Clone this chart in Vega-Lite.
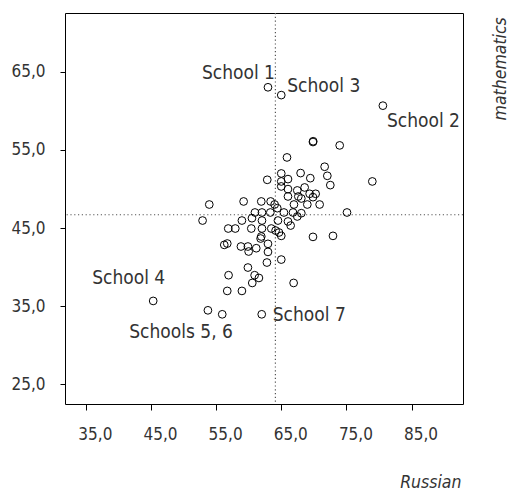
{
  "$schema": "https://vega.github.io/schema/vega-lite/v6.json",
  "width": 398,
  "height": 391,
  "autosize": {"type": "none"},
  "padding": {"left": 65, "top": 13, "right": 46, "bottom": 86},
  "config": {
    "view": {"stroke": "#000", "strokeWidth": 1},
    "font": "DejaVu Sans Condensed",
    "text": {"fontSize": 19, "color": "#333", "baseline": "middle"},
    "axis": {
      "domain": false,
      "grid": false,
      "tickColor": "#000",
      "tickSize": 6,
      "labelFont": "DejaVu Sans Condensed",
      "labelFontSize": 17,
      "labelColor": "#333",
      "titleFont": "DejaVu Sans Condensed",
      "titleFontSize": 17.5,
      "titleFontStyle": "italic",
      "titleFontWeight": "normal",
      "titleColor": "#333"
    }
  },
  "datasets": {
    "schools": [
      {"russian": 62.96, "math": 63.0, "label": "School 1"},
      {"russian": 65.0, "math": 62.0, "label": "School 3"},
      {"russian": 80.6, "math": 60.65, "label": "School 2"},
      {"russian": 69.87, "math": 56.0, "label": ""},
      {"russian": 69.9, "math": 56.1, "label": ""},
      {"russian": 73.97, "math": 55.57, "label": ""},
      {"russian": 65.88, "math": 54.03, "label": ""},
      {"russian": 71.66, "math": 52.84, "label": ""},
      {"russian": 72.07, "math": 51.68, "label": ""},
      {"russian": 72.53, "math": 50.49, "label": ""},
      {"russian": 78.98, "math": 50.96, "label": ""},
      {"russian": 62.85, "math": 51.17, "label": ""},
      {"russian": 65.0, "math": 51.98, "label": ""},
      {"russian": 65.0, "math": 50.96, "label": ""},
      {"russian": 65.0, "math": 50.32, "label": ""},
      {"russian": 66.03, "math": 51.26, "label": ""},
      {"russian": 67.97, "math": 52.03, "label": ""},
      {"russian": 69.46, "math": 51.38, "label": ""},
      {"russian": 66.03, "math": 49.98, "label": ""},
      {"russian": 67.46, "math": 49.81, "label": ""},
      {"russian": 68.59, "math": 50.19, "label": ""},
      {"russian": 66.03, "math": 49.04, "label": ""},
      {"russian": 67.62, "math": 49.04, "label": ""},
      {"russian": 68.08, "math": 48.78, "label": ""},
      {"russian": 69.36, "math": 49.38, "label": ""},
      {"russian": 70.28, "math": 49.38, "label": ""},
      {"russian": 69.87, "math": 48.95, "label": ""},
      {"russian": 66.95, "math": 48.01, "label": ""},
      {"russian": 69.0, "math": 48.01, "label": ""},
      {"russian": 70.89, "math": 48.01, "label": ""},
      {"russian": 63.98, "math": 48.01, "label": ""},
      {"russian": 63.37, "math": 48.4, "label": ""},
      {"russian": 61.93, "math": 48.4, "label": ""},
      {"russian": 59.22, "math": 48.4, "label": ""},
      {"russian": 53.95, "math": 48.01, "label": ""},
      {"russian": 75.09, "math": 46.99, "label": ""},
      {"russian": 52.92, "math": 45.96, "label": ""},
      {"russian": 60.96, "math": 46.99, "label": ""},
      {"russian": 62.04, "math": 46.99, "label": ""},
      {"russian": 63.32, "math": 46.99, "label": ""},
      {"russian": 64.39, "math": 47.54, "label": ""},
      {"russian": 65.41, "math": 46.99, "label": ""},
      {"russian": 66.8, "math": 46.99, "label": ""},
      {"russian": 68.08, "math": 46.9, "label": ""},
      {"russian": 67.46, "math": 46.48, "label": ""},
      {"russian": 58.96, "math": 45.96, "label": ""},
      {"russian": 60.5, "math": 46.26, "label": ""},
      {"russian": 62.04, "math": 45.96, "label": ""},
      {"russian": 64.49, "math": 45.96, "label": ""},
      {"russian": 66.03, "math": 45.84, "label": ""},
      {"russian": 66.44, "math": 45.32, "label": ""},
      {"russian": 56.86, "math": 44.94, "label": ""},
      {"russian": 57.94, "math": 44.94, "label": ""},
      {"russian": 60.4, "math": 44.94, "label": ""},
      {"russian": 62.04, "math": 44.94, "label": ""},
      {"russian": 63.47, "math": 44.94, "label": ""},
      {"russian": 64.13, "math": 44.68, "label": ""},
      {"russian": 65.0, "math": 44.0, "label": ""},
      {"russian": 64.65, "math": 44.43, "label": ""},
      {"russian": 61.93, "math": 43.92, "label": ""},
      {"russian": 61.83, "math": 43.66, "label": ""},
      {"russian": 69.87, "math": 43.87, "label": ""},
      {"russian": 72.94, "math": 44.0, "label": ""},
      {"russian": 56.25, "math": 42.85, "label": ""},
      {"russian": 56.71, "math": 43.02, "label": ""},
      {"russian": 58.81, "math": 42.64, "label": ""},
      {"russian": 59.88, "math": 42.64, "label": ""},
      {"russian": 59.99, "math": 42.0, "label": ""},
      {"russian": 61.16, "math": 42.42, "label": ""},
      {"russian": 62.96, "math": 42.98, "label": ""},
      {"russian": 62.96, "math": 41.95, "label": ""},
      {"russian": 65.0, "math": 40.97, "label": ""},
      {"russian": 62.8, "math": 40.59, "label": ""},
      {"russian": 59.88, "math": 39.95, "label": ""},
      {"russian": 56.91, "math": 38.97, "label": ""},
      {"russian": 60.91, "math": 38.97, "label": ""},
      {"russian": 61.57, "math": 38.62, "label": ""},
      {"russian": 60.55, "math": 37.98, "label": ""},
      {"russian": 66.9, "math": 37.98, "label": ""},
      {"russian": 56.71, "math": 36.96, "label": ""},
      {"russian": 58.96, "math": 36.96, "label": ""},
      {"russian": 45.34, "math": 35.68, "label": "School 4"},
      {"russian": 53.74, "math": 34.48, "label": "Schools 5, 6"},
      {"russian": 55.94, "math": 33.97, "label": ""},
      {"russian": 62.0, "math": 33.97, "label": "School 7"}
    ],
    "refs": [{"russian": 64.1, "math": 46.7}]
  },
  "encoding": {
    "x": {
      "field": "russian", "type": "quantitative",
      "scale": {"domain": [31.8, 92.9], "nice": false, "zero": false},
      "axis": {
        "title": "Russian", "values": [35, 45, 55, 65, 75, 85],
        "labelExpr": "replace(format(datum.value, '.1f'), '.', ',')",
        "labelPadding": 16, "labelOffset": 9,
        "titleX": 396, "titleY": 83, "titleAlign": "right", "titleBaseline": "alphabetic", "titleAngle": 0
      }
    },
    "y": {
      "field": "math", "type": "quantitative",
      "scale": {"domain": [22.5, 72.5], "nice": false, "zero": false},
      "axis": {
        "title": "mathematics", "values": [25, 35, 45, 55, 65],
        "labelExpr": "replace(format(datum.value, '.1f'), '.', ',')",
        "labelPadding": 15, "tickSize": 5,
        "titleX": 440, "titleY": 3.7, "titleAlign": "right", "titleBaseline": "alphabetic", "titleAngle": -90
      }
    }
  },
  "layer": [
    {
      "data": {"name": "refs"},
      "mark": {"type": "rule", "color": "#555", "strokeDash": [1.2, 2.6], "strokeWidth": 1.2},
      "encoding": {"y": null}
    },
    {
      "data": {"name": "refs"},
      "mark": {"type": "rule", "color": "#555", "strokeDash": [1.2, 2.6], "strokeWidth": 1.2},
      "encoding": {"x": null}
    },
    {
      "data": {"name": "schools"},
      "mark": {"type": "point", "shape": "circle", "filled": false, "color": "#000", "size": 60, "strokeWidth": 1, "opacity": 1}
    },
    {
      "data": {"name": "schools"},
      "transform": [{"filter": "datum.label == 'School 1'"}],
      "mark": {"type": "text", "align": "right", "dx": 7, "dy": -14},
      "encoding": {"text": {"field": "label"}}
    },
    {
      "data": {"name": "schools"},
      "transform": [{"filter": "datum.label == 'School 4'"}],
      "mark": {"type": "text", "align": "right", "dx": 12, "dy": -23},
      "encoding": {"text": {"field": "label"}}
    },
    {
      "data": {"name": "schools"},
      "transform": [{"filter": "datum.label == 'Schools 5, 6'"}],
      "mark": {"type": "text", "align": "right", "dx": 25, "dy": 22},
      "encoding": {"text": {"field": "label"}}
    },
    {
      "data": {"name": "schools"},
      "transform": [{"filter": "datum.label == 'School 3'"}],
      "mark": {"type": "text", "align": "left", "dx": 6, "dy": -9},
      "encoding": {"text": {"field": "label"}}
    },
    {
      "data": {"name": "schools"},
      "transform": [{"filter": "datum.label == 'School 2'"}],
      "mark": {"type": "text", "align": "left", "dx": 4, "dy": 15},
      "encoding": {"text": {"field": "label"}}
    },
    {
      "data": {"name": "schools"},
      "transform": [{"filter": "datum.label == 'School 7'"}],
      "mark": {"type": "text", "align": "left", "dx": 11, "dy": 1},
      "encoding": {"text": {"field": "label"}}
    }
  ]
}
